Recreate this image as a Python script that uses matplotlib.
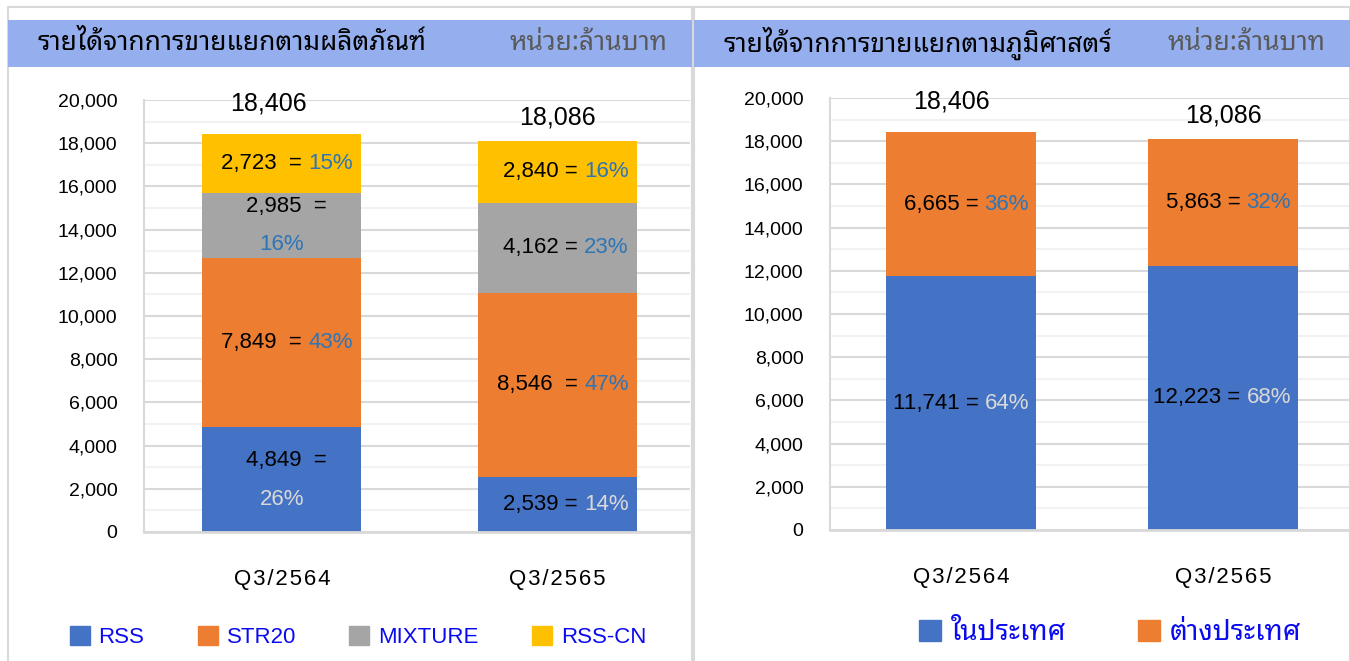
import matplotlib
matplotlib.use('Agg')
import matplotlib.pyplot as plt
from matplotlib import font_manager
from matplotlib.ft2font import FT2Font
from matplotlib.patches import Rectangle, Patch
from matplotlib.ticker import MultipleLocator, FuncFormatter

# data
quarters = ['Q3/2564', 'Q3/2565']
product_names = ['RSS', 'STR20', 'MIXTURE', 'RSS-CN']
product_values = [[4849, 2539], [7849, 8546], [2985, 4162], [2723, 2840]]
product_pct = [['26%', '14%'], ['43%', '47%'], ['16%', '23%'], ['15%', '16%']]
product_totals = ['18,406', '18,086']

geo_names = ['ในประเทศ', 'ต่างประเทศ']
geo_values = [[11741, 12223], [6665, 5863]]
geo_pct = [['64%', '68%'], ['36%', '32%']]
geo_totals = ['18,406', '18,086']

# colours
product_colors = ['#4472C4', '#ED7D31', '#A5A5A5', '#FFC000']
geo_colors = ['#4472C4', '#ED7D31']


def find_thai():
    found = []
    for f in font_manager.fontManager.ttflist:
        try:
            cmap = FT2Font(f.fname).get_charmap()
        except Exception:
            continue
        if 0x0E23 in cmap and f.name not in found:
            found.append(f.name)
    found.sort(key=lambda n: 0 if 'Noto Sans Thai' in n else 1)
    return found


thai = find_thai()
LAT = ['Liberation Sans', 'DejaVu Sans']
THAI = thai[:1] + LAT
plt.rcParams['font.family'] = LAT

W, H = 1350, 661
fig = plt.figure(figsize=(W / 100, H / 100), dpi=100)

# panels and header bands
for x0, x1, title in [(8, 692, 'รายได้จากการขายแยกตามผลิตภัณฑ์'),
                      (694, 1350, 'รายได้จากการขายแยกตามภูมิศาสตร์')]:
    fig.patches.append(Rectangle((x0 / W, -0.01), (x1 - x0) / W, (661 - 7) / H + 0.01,
                                 transform=fig.transFigure, fill=False,
                                 edgecolor='#D9D9D9', lw=1.5))
    fig.patches.append(Rectangle((x0 / W, (661 - 67) / H), (x1 - x0) / W, 47 / H,
                                 transform=fig.transFigure, facecolor='#94AEEE',
                                 edgecolor='none'))
    fig.text((x0 + 29) / W, 1 - 43 / H, title, fontsize=19, fontweight='bold',
             va='center', family=THAI)
    fig.text((x1 - 24) / W, 1 - 43 / H, 'หน่วย:ล้านบาท', fontsize=19,
             color='#595959', va='center', ha='right', family=THAI)


def style_axis(ax, right_lim):
    ax.set_xlim(-0.5, right_lim)
    ax.set_ylim(0, 20000)
    ax.yaxis.set_major_locator(MultipleLocator(2000))
    ax.yaxis.set_minor_locator(MultipleLocator(1000))
    ax.yaxis.set_major_formatter(FuncFormatter(lambda v, p: '{:,.0f}'.format(v)))
    ax.grid(which='major', axis='y', color='#D9D9D9', lw=1.5)
    ax.grid(which='minor', axis='y', color='#F2F2F2', lw=1.5)
    ax.set_axisbelow(True)
    for s in ['top', 'right']:
        ax.spines[s].set_visible(False)
    ax.spines['left'].set_color('#D9D9D9')
    ax.spines['left'].set_linewidth(1.5)
    ax.spines['bottom'].set_color('#D9D9D9')
    ax.spines['bottom'].set_linewidth(2)
    ax.tick_params(axis='y', which='both', length=0, labelsize=14, pad=19)
    ax.tick_params(axis='x', length=0, labelsize=16, pad=27)
    ax.set_xticks(range(len(quarters)))
    ax.set_xticklabels(['\u200a'.join(q) for q in quarters])


def seg_label(ax, x, y, value, pct, pct_color, dx, sep=' = ', two_lines=False):
    txt = '{:,}'.format(value)
    if two_lines:
        ax.annotate(txt + '  =', (x, y), xytext=(3, 14), textcoords='offset points',
                    ha='center', va='center', fontsize=16)
        ax.annotate(pct, (x, y), xytext=(0, -14), textcoords='offset points',
                    ha='center', va='center', fontsize=16, color=pct_color)
    else:
        ax.annotate(txt + sep, (x, y), xytext=(dx, 0), textcoords='offset points',
                    ha='right', va='center', fontsize=16)
        ax.annotate(pct, (x, y), xytext=(dx, 0), textcoords='offset points',
                    ha='left', va='center', fontsize=16, color=pct_color)


# left chart: by product
axL = fig.add_axes([144 / W, 129 / H, 546 / W, 432 / H])
style_axis(axL, 1.48)
wide_sep = [(0, 1), (0, 3), (1, 1)]
bottom = [0, 0]
for k, name in enumerate(product_names):
    vals = product_values[k]
    axL.bar(range(2), vals, 0.576, bottom=bottom, color=product_colors[k], label=name)
    for i in range(2):
        pc = '#D9D9D9' if k == 0 else '#2E75B6'
        sep = '  = ' if (i, k) in wide_sep else ' = '
        seg_label(axL, i, bottom[i] + vals[i] / 2, vals[i], product_pct[k][i], pc,
                  19, sep=sep, two_lines=(i == 0 and k in (0, 2)))
    bottom = [b + v for b, v in zip(bottom, vals)]
for i, t in enumerate(product_totals):
    axL.annotate(t, (i, bottom[i]), xytext=(-10 if i == 0 else 0, 22 if i == 0 else 17),
                 textcoords='offset points', ha='center', va='center', fontsize=18)

# right chart: by geography
axR = fig.add_axes([830 / W, 131 / H, 520 / W, 432 / H])
style_axis(axR, 1.485)
bottom = [0, 0]
for k, name in enumerate(geo_names):
    vals = geo_values[k]
    axR.bar(range(2), vals, 0.573, bottom=bottom, color=geo_colors[k], label=name)
    for i in range(2):
        pc = '#D9D9D9' if k == 0 else '#2E75B6'
        seg_label(axR, i, bottom[i] + vals[i] / 2, vals[i], geo_pct[k][i], pc, 17)
    bottom = [b + v for b, v in zip(bottom, vals)]
for i, t in enumerate(geo_totals):
    axR.annotate(t, (i, bottom[i]), xytext=(-7 if i == 0 else 0, 22 if i == 0 else 17),
                 textcoords='offset points', ha='center', va='center', fontsize=18)

# legends
hL = [Patch(color=c) for c in product_colors]
fig.legend(hL, product_names, loc='center', bbox_to_anchor=(358 / W, 1 - 637 / H),
           ncol=4, frameon=False, fontsize=16, handlelength=0.9, handleheight=0.9,
           handletextpad=0.4, columnspacing=2.4, labelcolor='#0A0AF0')
hR = [Patch(color=c) for c in geo_colors]
fig.legend(hR, geo_names, loc='center', bbox_to_anchor=(1110 / W, 1 - 633 / H),
           ncol=2, frameon=False, handlelength=0.8, handleheight=0.8,
           handletextpad=0.35, columnspacing=2.6, labelcolor='#0A0AF0',
           prop={'family': THAI, 'size': 20})

fig.savefig('out.png', dpi=100)
